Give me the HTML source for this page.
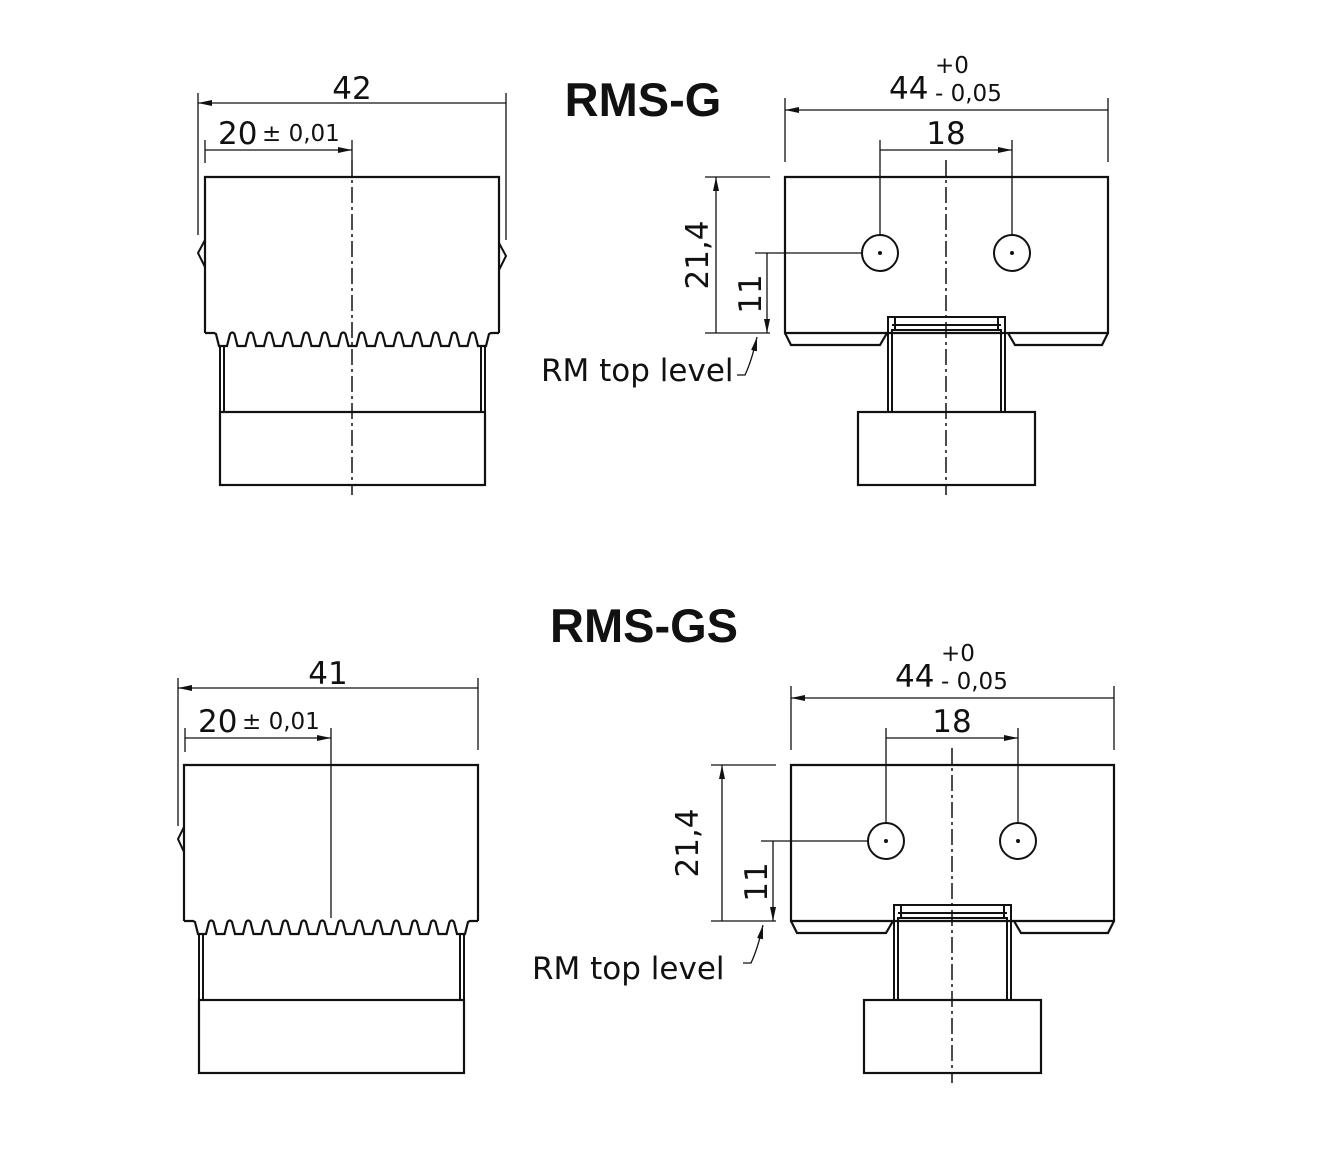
<!DOCTYPE html>
<html><head><meta charset="utf-8"><style>
html,body{margin:0;padding:0;background:#fff;}
svg{display:block;}
text{font-family:"DejaVu Sans","Liberation Sans",sans-serif;fill:#111;}
.t{font-family:"Liberation Sans",sans-serif;font-weight:bold;}
</style></head><body>
<svg width="1320" height="1164" viewBox="0 0 1320 1164" xmlns="http://www.w3.org/2000/svg">
<defs>
<marker id="a" viewBox="0 0 14 6" refX="14" refY="3" markerWidth="14" markerHeight="6" orient="auto-start-reverse" markerUnits="userSpaceOnUse"><path d="M0 0L14 3L0 6z" fill="#111"/></marker>
<g id="teeth">
<path d="M205 333H214L216 334 l3 12 h8 l3 -12 q2.25 -3 4.5 0 l3 12 h8 l3 -12 q2.25 -3 4.5 0 l3 12 h8 l3 -12 q2.25 -3 4.5 0 l3 12 h8 l3 -12 q2.25 -3 4.5 0 l3 12 h8 l3 -12 q2.25 -3 4.5 0 l3 12 h8 l3 -12 q2.25 -3 4.5 0 l3 12 h8 l3 -12 q2.25 -3 4.5 0 l3 12 h8 l3 -12 q2.25 -3 4.5 0 l3 12 h8 l3 -12 q2.25 -3 4.5 0 l3 12 h8 l3 -12 q2.25 -3 4.5 0 l3 12 h8 l3 -12 q2.25 -3 4.5 0 l3 12 h8 l3 -12 q2.25 -3 4.5 0 l3 12 h8 l3 -12 q2.25 -3 4.5 0 l3 12 h8 l3 -12 q2.25 -3 4.5 0 l3 12 h8 l3 -12 L491 333H499" fill="none" stroke="#111" stroke-width="2.2"/>
<path d="M205 333V177H499V333" fill="none" stroke="#111" stroke-width="2.2"/>
<path d="M220 346V412M224 346V412M481 346V412M485 346V412" stroke="#111" stroke-width="2"/>
<rect x="220" y="412" width="265" height="73" fill="none" stroke="#111" stroke-width="2.2"/>
</g>
<g id="right" fill="none" stroke="#111">
<path d="M785 333V177H1108V333Z" stroke-width="2.2"/>
<path d="M785 333L791 345H880L887 333M1008 333L1015 345H1102L1108 333" stroke-width="2.2"/>
<path d="M888 412V317H1005V412M892 412V330H1001V412M892 325H1001M895 317V330M998 317V330" stroke-width="2"/>
<rect x="858" y="412" width="177" height="73" stroke-width="2.2"/>
<circle cx="880" cy="253" r="18" stroke-width="2"/><circle cx="1012" cy="253" r="18" stroke-width="2"/>
<circle cx="880" cy="253" r="1.5" fill="#111"/><circle cx="1012" cy="253" r="1.5" fill="#111"/>
<path d="M946 160V495" stroke-width="1.5" stroke-dasharray="16 4 3 4"/>
<path d="M880 235V140M1012 235V140M785 98V162M1108 98V162" stroke-width="1.3"/>
<path d="M785 110H1108M880 150H1012" stroke-width="1.3" marker-start="url(#a)" marker-end="url(#a)"/>
<path d="M705 177H770M705 333H770M755 253H862" stroke-width="1.3"/>
<path d="M716 177V333M767 253V333" stroke-width="1.3" marker-start="url(#a)" marker-end="url(#a)"/>
<path d="M737 375H745Q752 360 757 337" stroke-width="1.3" marker-end="url(#a)"/>
</g>
</defs>

<!-- top left -->
<use href="#teeth"/>
<path d="M205 240L198 253L205 267M499 243L506 256L499 270" fill="none" stroke="#111" stroke-width="2"/>
<path d="M352 160V495" stroke="#111" stroke-width="1.5" stroke-dasharray="16 4 3 4"/>
<path d="M198 93V235M506 93V240M205 140V163M352 140V160" stroke="#111" stroke-width="1.3"/>
<path d="M198 103H506M205 150H352" stroke="#111" stroke-width="1.3" marker-start="url(#a)" marker-end="url(#a)"/>
<text x="352" y="99" font-size="31" text-anchor="middle">42</text>
<text x="218" y="144" font-size="31">20</text>
<text x="262" y="141" font-size="23">± 0,01</text>

<text x="643" y="116" font-size="47" class="t" text-anchor="middle">RMS-G</text>

<!-- top right -->
<use href="#right"/>
<text x="889" y="99" font-size="31">44</text>
<text x="935" y="73" font-size="23">+0</text>
<text x="935" y="101" font-size="23">- 0,05</text>
<text x="946" y="144" font-size="31" text-anchor="middle">18</text>
<text transform="translate(708,255) rotate(-90)" font-size="31" text-anchor="middle">21,4</text>
<text transform="translate(761,294) rotate(-90)" font-size="31" text-anchor="middle">11</text>
<text x="541" y="381" font-size="31">RM top level</text>

<!-- bottom left -->
<g transform="translate(-21,588)"><use href="#teeth"/></g>
<path d="M184 827L178 839L184 852" fill="none" stroke="#111" stroke-width="2"/>
<path d="M331 728V918" stroke="#111" stroke-width="1.3"/>
<path d="M178 678V826M478 678V750M185 728V752" stroke="#111" stroke-width="1.3"/>
<path d="M178 688H478M185 738H331" stroke="#111" stroke-width="1.3" marker-start="url(#a)" marker-end="url(#a)"/>
<text x="328" y="684" font-size="31" text-anchor="middle">41</text>
<text x="198" y="732" font-size="31">20</text>
<text x="242" y="729" font-size="23">± 0,01</text>

<text x="644" y="642" font-size="47" class="t" text-anchor="middle">RMS-GS</text>

<!-- bottom right -->
<g transform="translate(6,588)"><use href="#right"/></g>
<text x="895" y="687" font-size="31">44</text>
<text x="941" y="661" font-size="23">+0</text>
<text x="941" y="689" font-size="23">- 0,05</text>
<text x="952" y="732" font-size="31" text-anchor="middle">18</text>
<text transform="translate(698,843) rotate(-90)" font-size="31" text-anchor="middle">21,4</text>
<text transform="translate(767,882) rotate(-90)" font-size="31" text-anchor="middle">11</text>
<text x="532" y="979" font-size="31">RM top level</text>
</svg>
</body></html>
